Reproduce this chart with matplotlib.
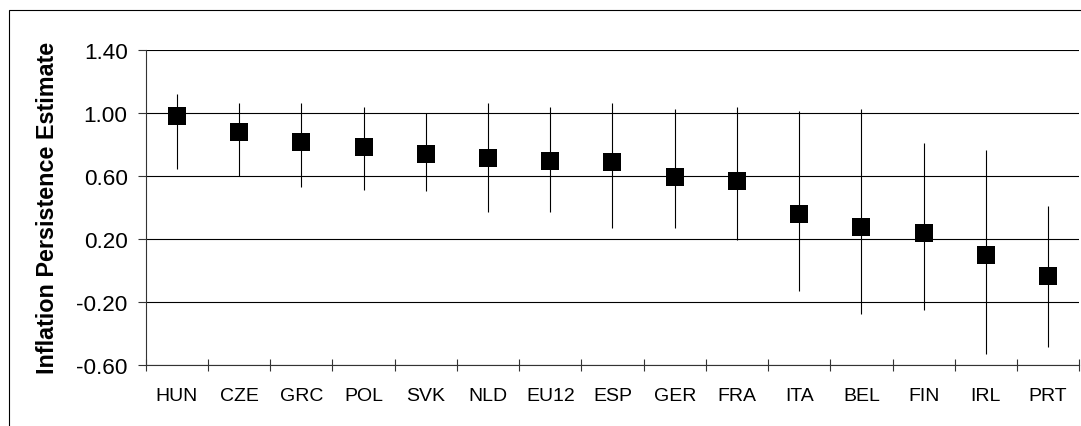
import matplotlib
matplotlib.use('Agg')
import matplotlib.pyplot as plt
from matplotlib.patches import Rectangle

plt.rcParams['font.family'] = ['Liberation Sans', 'DejaVu Sans']

# inflation persistence estimates with confidence bands
countries = ['HUN', 'CZE', 'GRC', 'POL', 'SVK', 'NLD', 'EU12', 'ESP',
             'GER', 'FRA', 'ITA', 'BEL', 'FIN', 'IRL', 'PRT']
estimate = [0.98, 0.875, 0.815, 0.78, 0.74, 0.71, 0.695, 0.685,
            0.59, 0.565, 0.355, 0.275, 0.235, 0.095, -0.04]
upper = [1.12, 1.06, 1.06, 1.035, 1.00, 1.06, 1.035, 1.06,
         1.025, 1.035, 1.01, 1.025, 0.805, 0.76, 0.41]
lower = [0.64, 0.60, 0.53, 0.51, 0.50, 0.37, 0.37, 0.27,
         0.27, 0.19, -0.135, -0.28, -0.255, -0.53, -0.49]
yticks = [-0.60, -0.20, 0.20, 0.60, 1.00, 1.40]

fig = plt.figure(figsize=(10.81, 4.27), dpi=100)
ax = fig.add_axes([0.1348, 0.1436, 0.8636, 0.7377])

x = list(range(len(countries)))
ax.vlines(x, lower, upper, color='black', lw=0.8, zorder=3)
ax.plot(x, estimate, 's', color='black', ms=12.3, mew=0, ls='none', zorder=4)

ax.set_xlim(-0.5, len(countries) - 0.5)
ax.set_ylim(yticks[0], yticks[-1])
ax.set_yticks(yticks)
ax.set_yticklabels(['%.2f' % v for v in yticks], fontsize=16.2)
ax.yaxis.grid(True, color='black', lw=0.8)
ax.set_axisbelow(True)

# category labels at centres, tick marks at boundaries
ax.set_xticks([i - 0.5 for i in range(len(countries) + 1)])
ax.set_xticklabels([])
ax.set_xticks(x, minor=True)
ax.set_xticklabels(countries, minor=True, fontsize=14)
ax.tick_params(axis='x', which='major', direction='inout', length=8, width=0.8, color='#333333')
ax.tick_params(axis='x', which='minor', length=0, pad=16)
ax.tick_params(axis='y', direction='out', length=6, width=0.8, pad=7, color='#333333')

for s in ['top', 'right']:
    ax.spines[s].set_visible(False)
for s in ['left', 'bottom']:
    ax.spines[s].set_color('#333333')
    ax.spines[s].set_linewidth(0.8)

ax.set_ylabel('Inflation Persistence Estimate', fontsize=16.8, fontweight='bold', labelpad=12)

# outer chart frame (runs off the right and bottom edges)
fig.patches.append(Rectangle((8.7 / 1081, -0.1), 1.2, 1.1 - 11.3 / 427,
                             transform=fig.transFigure, fill=False,
                             edgecolor='black', lw=0.8))

fig.savefig('out.png', dpi=100)
